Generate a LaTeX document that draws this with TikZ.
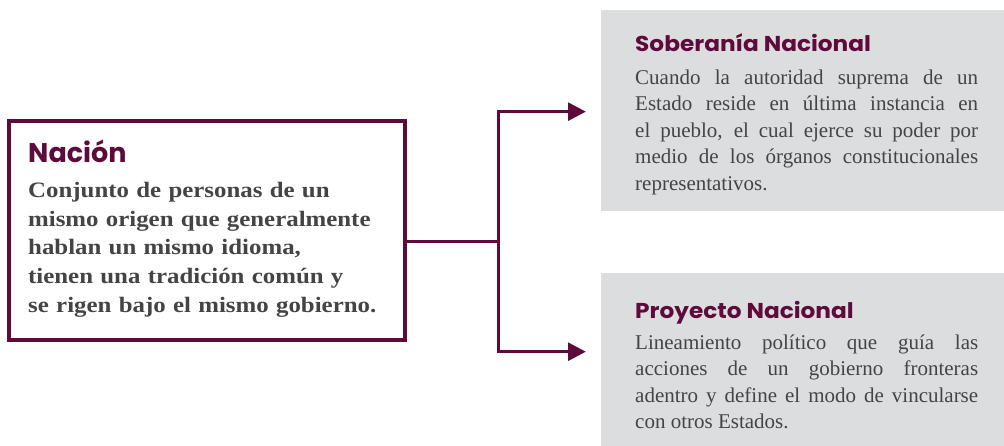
\documentclass[tikz,border=0pt]{standalone}
\usepackage{fontspec}
\setmainfont{Liberation Serif}
\newfontfamily\titlefont{Poppins}
\newfontfamily\titlewide[FakeStretch=1.08]{Poppins}
\newfontfamily\leftfont[FakeStretch=1.13]{Liberation Serif}
\usetikzlibrary{arrows.meta}
\definecolor{maroon}{RGB}{94,10,58}
\definecolor{boxgray}{RGB}{220,221,223}
\definecolor{bodygray}{RGB}{68,68,68}
\tikzset{
  graybox/.style={rectangle, fill=boxgray, inner sep=0pt, minimum width=403.3pt},
  mainbox/.style={rectangle, draw=maroon, line width=4pt, fill=white, inner sep=0pt, minimum width=396pt, minimum height=219pt},
  conn/.style={draw=maroon, line width=2.5pt},
  arr/.style={-{Triangle[length=17.7pt,width=18pt]}},
  titletext/.style={anchor=base west, inner sep=0pt, text=maroon},
  bodytext/.style={anchor=base west, inner sep=0pt, text=bodygray, align=justify, text width=343pt, font=\fontsize{21}{26.5}\selectfont},
  leftbody/.style={anchor=base west, inner sep=0pt, text=bodygray, align=left, text width=370pt, font=\leftfont\fontsize{22}{28.75}\selectfont\bfseries}
}
\begin{document}
\begin{tikzpicture}[x=1pt,y=-1pt]
\useasboundingbox (0,0) rectangle (1004,446);
% gray boxes
\node[graybox, minimum height=200.7pt] (sob) at (802.35,110.35) {};
\node[graybox, minimum height=173.3pt] (proy) at (802.35,359.35) {};
% main box
\node[mainbox] (nacion) at (207.3,230.8) {};
% texts
\node[titletext, font=\titlefont\bfseries\fontsize{27}{30}\selectfont] (tnacion) at (28,162.7) {Nación};
\node[leftbody] (bnacion) at (28,197.3) {Conjunto de personas de un\\mismo origen que generalmente\\hablan un mismo idioma,\\tienen una tradición común y\\se rigen bajo el mismo gobierno.};
\node[titletext, font=\titlewide\bfseries\fontsize{21.5}{24}\selectfont] (tsob) at (635,51.7) {Soberanía Nacional};
\node[bodytext] (bsob) at (635,84.3) {Cuando la autoridad suprema de un\linebreak Estado reside en última instancia en\linebreak el pueblo, el cual ejerce su poder por\linebreak medio de los órganos constitucionales\linebreak representativos.};
\node[titletext, font=\titlewide\bfseries\fontsize{21.5}{24}\selectfont] (tproy) at (635,318.3) {Proyecto Nacional};
\node[bodytext] (bproy) at (635,349.3) {Lineamiento político que guía las\linebreak acciones de un gobierno fronteras\linebreak adentro y define el modo de vincularse\linebreak con otros Estados.};
% connectors
\coordinate (j) at (498.3,241.7);
\draw[conn] ([yshift=-10.9pt]nacion.east) -- (j);
\draw[conn, arr] (j) |- ([xshift=-14.7pt,yshift=-1.3pt]sob.west);
\draw[conn, arr] (j) |- ([xshift=-14.7pt,yshift=7.65pt]proy.west);
\end{tikzpicture}
\end{document}
